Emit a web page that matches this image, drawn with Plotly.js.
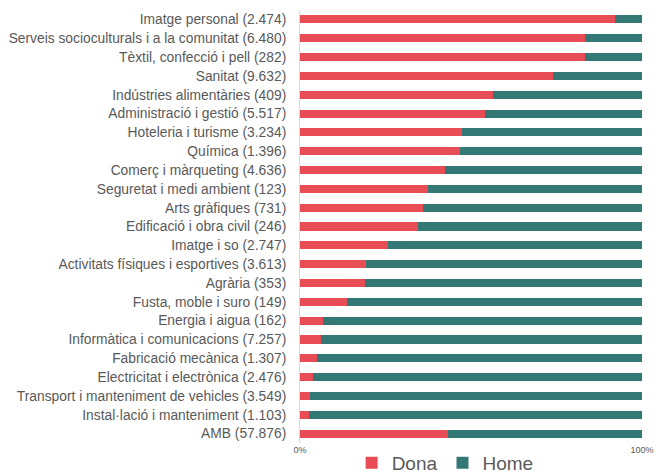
<!DOCTYPE html>
<html>
<head>
<meta charset="utf-8">
<script src="https://cdn.plot.ly/plotly-3.0.1.min.js"></script>
<style>html,body{margin:0;padding:0;background:#fff;}#chart{width:656px;height:473px;}</style>
</head>
<body>
<div id="chart"></div>
<script>
const categories = [
  "Imatge personal (2.474)",
  "Serveis socioculturals i a la comunitat (6.480)",
  "Tèxtil, confecció i pell (282)",
  "Sanitat (9.632)",
  "Indústries alimentàries (409)",
  "Administració i gestió (5.517)",
  "Hoteleria i turisme (3.234)",
  "Química (1.396)",
  "Comerç i màrqueting (4.636)",
  "Seguretat i medi ambient (123)",
  "Arts gràfiques (731)",
  "Edificació i obra civil (246)",
  "Imatge i so (2.747)",
  "Activitats físiques i esportives (3.613)",
  "Agrària (353)",
  "Fusta, moble i suro (149)",
  "Energia i aigua (162)",
  "Informàtica i comunicacions (7.257)",
  "Fabricació mecànica (1.307)",
  "Electricitat i electrònica (2.476)",
  "Transport i manteniment de vehicles (3.549)",
  "Instal·lació i manteniment (1.103)",
  "AMB (57.876)"
];
const dona = [92.2, 83.2, 83.2, 73.9, 56.3, 54.0, 47.5, 46.8, 42.4, 37.3, 36.0, 34.6, 25.8, 19.4, 19.0, 13.8, 6.8, 6.1, 5.1, 3.7, 3.0, 2.7, 43.4];
const home = [7.8, 16.8, 16.8, 26.1, 43.7, 46.0, 52.5, 53.2, 57.6, 62.7, 64.0, 65.4, 74.2, 80.6, 81.0, 86.2, 93.2, 93.9, 94.9, 96.3, 97.0, 97.3, 56.6];
const xTickVals = [0, 100];
const xTickText = ["0%", "100%"];

const traces = [
  {type: 'bar', orientation: 'h', name: 'Dona', y: categories, x: dona,
   marker: {color: '#E84D56'}, hoverinfo: 'x+y'},
  {type: 'bar', orientation: 'h', name: 'Home', y: categories, x: home,
   marker: {color: '#347876'}, hoverinfo: 'x+y'}
];

const layout = {
  width: 656, height: 473,
  margin: {l: 300, r: 14, t: 10, b: 30, pad: 0, autoexpand: false},
  barmode: 'stack',
  bargap: 0.57,
  paper_bgcolor: '#fff', plot_bgcolor: '#fff',
  font: {family: 'Liberation Sans, Arial, sans-serif', color: '#595959', size: 13.8},
  xaxis: {range: [0, 100], tickvals: xTickVals, ticktext: xTickText, showgrid: false,
          zeroline: false, showline: false, ticks: '', tickfont: {size: 9, color: '#595959'}, fixedrange: true},
  yaxis: {autorange: 'reversed', type: 'category', showgrid: false, zeroline: false,
          showline: true, linecolor: '#d9d9d9', linewidth: 1, ticks: '', ticklabelstandoff: 10,
          tickfont: {size: 13.8, color: '#595959'}, fixedrange: true},
  showlegend: true,
  legend: {orientation: 'h', x: 0.151, xanchor: 'left', y: -0.046, yanchor: 'middle',
           font: {size: 19, color: '#595959'}, traceorder: 'normal', itemwidth: 30,
           bgcolor: 'rgba(0,0,0,0)'}
};

Plotly.newPlot('chart', traces, layout, {displayModeBar: false, staticPlot: true});
</script>
</body>
</html>
